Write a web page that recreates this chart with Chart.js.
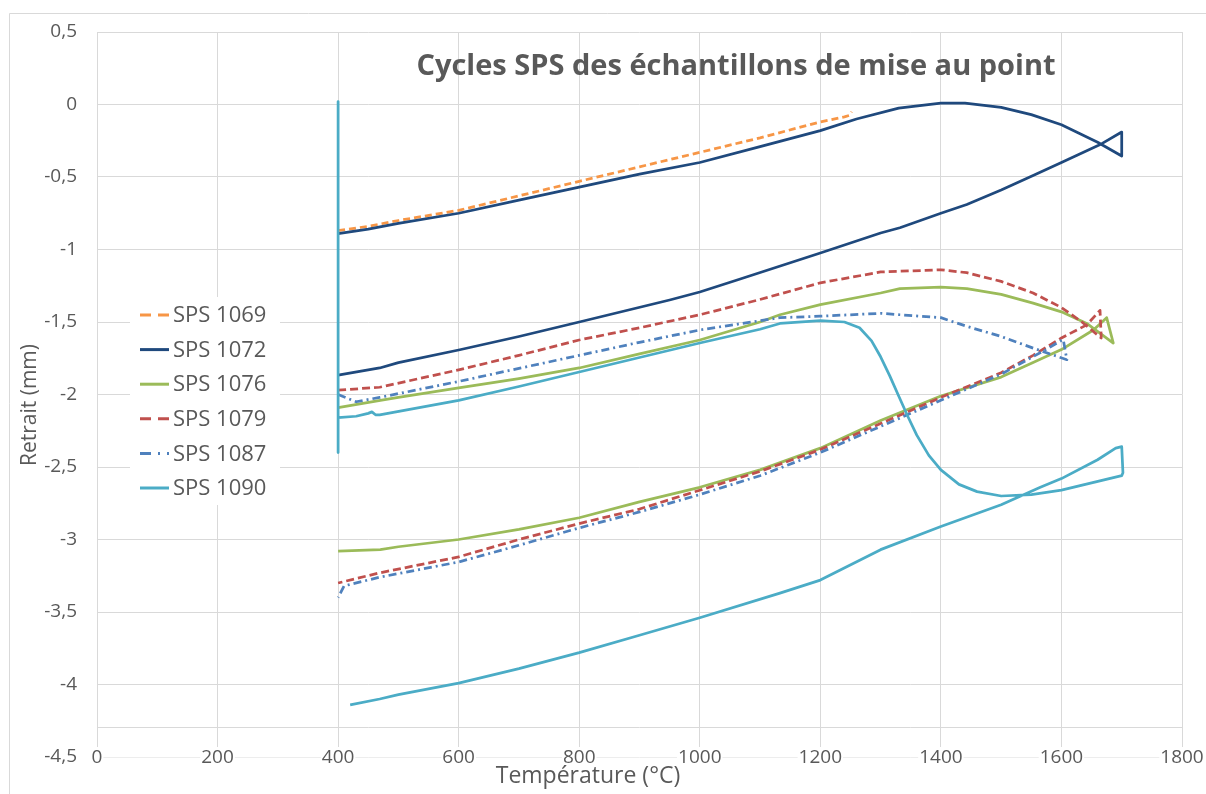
<!DOCTYPE html>
<html>
<head>
<meta charset="utf-8">
<title>Cycles SPS des échantillons de mise au point</title>
<script src="https://cdn.jsdelivr.net/npm/chart.js@4/dist/chart.umd.min.js"></script>
<style>
  html, body { margin: 0; padding: 0; background: #ffffff; }
  #wrap { position: relative; width: 1206px; height: 794px; }
  canvas { display: block; }
</style>
</head>
<body>
<div id="wrap"><canvas id="c" width="1206" height="794"></canvas></div>
<script>
// Température (°C) / retrait (mm) for each SPS run: heating branch, dwell, then cooling branch.
const sps1069_T = [400, 450, 500, 600, 700, 800, 900, 1000, 1100, 1200, 1240, 1248, 1252];
const sps1069_R = [-0.87, -0.84, -0.80, -0.73, -0.63, -0.53, -0.43, -0.33, -0.23, -0.12, -0.085, -0.075, -0.05];

const sps1072_T = [400, 450, 500, 600, 700, 800, 900, 1000, 1100, 1200, 1260, 1330, 1400, 1440, 1500, 1550, 1600, 1660, 1700,
                   1700, 1667, 1600, 1553, 1500, 1443, 1400, 1332, 1300, 1200, 1062, 1000, 950, 800, 700, 600, 500, 469, 400];
const sps1072_R = [-0.89, -0.86, -0.82, -0.75, -0.66, -0.57, -0.48, -0.40, -0.29, -0.18, -0.10, -0.025, 0.01, 0.01, -0.02, -0.07, -0.14, -0.26, -0.355,
                   -0.19, -0.27, -0.40, -0.49, -0.59, -0.69, -0.75, -0.85, -0.886, -1.024, -1.21, -1.293, -1.348, -1.50, -1.60, -1.693, -1.78, -1.817, -1.866];

const sps1076_T = [400, 470, 500, 600, 700, 800, 900, 1000, 1100, 1133, 1200, 1300, 1332, 1400, 1443, 1500, 1553, 1600, 1642, 1686,
                   1675, 1653, 1600, 1553, 1500, 1400, 1300, 1200, 1100, 1000, 900, 800, 700, 600, 500, 470, 400];
const sps1076_R = [-2.09, -2.04, -2.02, -1.955, -1.89, -1.817, -1.72, -1.624, -1.50, -1.45, -1.38, -1.30, -1.27, -1.26, -1.27, -1.31, -1.37, -1.43, -1.51, -1.645,
                   -1.47, -1.555, -1.69, -1.78, -1.88, -2.01, -2.18, -2.37, -2.52, -2.64, -2.74, -2.85, -2.93, -3.00, -3.05, -3.07, -3.08];

const sps1079_T = [400, 469, 600, 700, 800, 900, 1000, 1095, 1200, 1300, 1332, 1400, 1443, 1500, 1553, 1600, 1634, 1666,
                   1664, 1642, 1600, 1553, 1500, 1400, 1300, 1200, 1100, 1000, 900, 800, 700, 600, 469, 400];
const sps1079_R = [-1.97, -1.95, -1.83, -1.73, -1.624, -1.54, -1.45, -1.35, -1.23, -1.155, -1.15, -1.14, -1.16, -1.22, -1.30, -1.40, -1.50, -1.61,
                   -1.42, -1.52, -1.61, -1.73, -1.85, -2.02, -2.20, -2.38, -2.53, -2.66, -2.79, -2.89, -3.00, -3.12, -3.23, -3.30];

const sps1087_T = [400, 430, 469, 600, 700, 800, 900, 1000, 1133, 1200, 1300, 1332, 1400, 1443, 1500, 1553, 1609,
                   1603, 1570, 1526, 1500, 1400, 1300, 1200, 1100, 1000, 900, 800, 700, 600, 469, 410, 400];
const sps1087_R = [-2.00, -2.05, -2.02, -1.91, -1.82, -1.73, -1.64, -1.555, -1.47, -1.46, -1.44, -1.45, -1.47, -1.53, -1.60, -1.68, -1.76,
                   -1.62, -1.70, -1.80, -1.86, -2.04, -2.22, -2.40, -2.56, -2.69, -2.81, -2.92, -3.04, -3.155, -3.26, -3.32, -3.40];

const sps1090_T = [400, 400, 400, 430, 450, 456, 462, 469, 600, 700, 800, 900, 1000, 1100, 1133, 1200, 1240, 1265, 1285, 1300, 1315, 1330, 1345, 1360, 1380, 1400, 1430, 1460, 1500,
                   1550, 1600, 1650, 1700, 1702,
                   1700, 1690, 1660, 1600, 1565, 1500, 1400, 1300, 1200, 1133, 1000, 900, 800, 700, 600, 500, 469, 420];
const sps1090_R = [0.02, -2.40, -2.16, -2.15, -2.13, -2.12, -2.14, -2.14, -2.04, -1.945, -1.845, -1.745, -1.645, -1.55, -1.51, -1.49, -1.50, -1.54, -1.63, -1.74, -1.87, -2.01, -2.15, -2.28, -2.42, -2.52, -2.62, -2.67, -2.70,
                   -2.69, -2.66, -2.61, -2.56, -2.54,
                   -2.36, -2.37, -2.45, -2.58, -2.64, -2.76, -2.91, -3.07, -3.28, -3.37, -3.54, -3.66, -3.78, -3.89, -3.99, -4.07, -4.10, -4.14];

const seriesLabels = ['SPS 1069', 'SPS 1072', 'SPS 1076', 'SPS 1079', 'SPS 1087', 'SPS 1090'];
const xTicks = [0, 200, 400, 600, 800, 1000, 1200, 1400, 1600, 1800];
const yTicks = [0.5, 0, -0.5, -1, -1.5, -2, -2.5, -3, -3.5, -4, -4.5];
const baseLineValue = -4.29;

// Line styles (Office palette)
const styles = [
  { color: '#F79646', dash: [7, 4],       legendDash: [11, 7] },
  { color: '#1F497D', dash: [],           legendDash: [] },
  { color: '#9BBB59', dash: [],           legendDash: [] },
  { color: '#C0504D', dash: [8, 4],       legendDash: [11, 7] },
  { color: '#4F81BD', dash: [8, 4, 2, 4], legendDash: [11, 7, 2, 7] },
  { color: '#4BACC6', dash: [],           legendDash: [] }
];

const rawSeries = [
  [sps1069_T, sps1069_R], [sps1072_T, sps1072_R], [sps1076_T, sps1076_R],
  [sps1079_T, sps1079_R], [sps1087_T, sps1087_R], [sps1090_T, sps1090_R]
];

const FONT = "'Open Sans', 'Noto Sans', sans-serif";
const TEXT = '#595959';
const GRID = '#D9D9D9';
const GRID_LIGHT = '#EDEDED';
const TICK_SIZE = 19;

const fmt = v => String(v).replace('.', ',');

const datasets = rawSeries.map(([T, R], i) => ({
  label: seriesLabels[i],
  data: T.map((t, k) => ({ x: t, y: R[k] })),
  showLine: true,
  borderColor: styles[i].color,
  backgroundColor: styles[i].color,
  borderWidth: 2.75,
  borderDash: styles[i].dash,
  borderCapStyle: 'butt',
  borderJoinStyle: 'round',
  pointRadius: 0,
  pointHoverRadius: 0,
  tension: 0,
  fill: false,
  order: rawSeries.length - i
}));

const decor = {
  id: 'decor',
  beforeDraw(chart) {
    const ctx = chart.ctx;
    ctx.save();
    ctx.fillStyle = '#ffffff';
    ctx.fillRect(0, 0, chart.width, chart.height);
    ctx.strokeStyle = GRID;
    ctx.lineWidth = 1;
    ctx.beginPath();
    ctx.moveTo(9.5, chart.height);
    ctx.lineTo(9.5, 13.5);
    ctx.lineTo(chart.width, 13.5);
    ctx.stroke();
    ctx.restore();
  },
  beforeDatasetsDraw(chart) {
    const ctx = chart.ctx, a = chart.chartArea;
    ctx.save();
    // horizontal axis line
    const y = Math.round(chart.scales.y.getPixelForValue(baseLineValue)) + 0.5;
    ctx.strokeStyle = GRID;
    ctx.lineWidth = 1;
    ctx.beginPath();
    ctx.moveTo(a.left, y);
    ctx.lineTo(a.right, y);
    ctx.stroke();
    ctx.restore();
  },
  afterDraw(chart) {
    const ctx = chart.ctx, a = chart.chartArea, xs = chart.scales.x;
    ctx.save();
    // temperature tick labels, sitting on the bottom gridline
    ctx.font = TICK_SIZE + 'px ' + FONT;
    ctx.textAlign = 'center';
    ctx.textBaseline = 'middle';
    xTicks.forEach(v => {
      const s = fmt(v);
      const w = ctx.measureText(s).width;
      const px = xs.getPixelForValue(v);
      ctx.fillStyle = '#ffffff';
      ctx.fillRect(px - w / 2 - 1, a.bottom - 10, w + 2, 22);
      ctx.fillStyle = TEXT;
      ctx.fillText(s, px, a.bottom + 1);
    });

    // chart title
    ctx.fillStyle = TEXT;
    ctx.font = "bold 29px " + FONT;
    ctx.fillText('Cycles SPS des échantillons de mise au point', 736, 67);

    // axis titles
    ctx.font = "23px " + FONT;
    ctx.fillText('Température (°C)', 588, 776);
    ctx.font = "21px " + FONT;
    ctx.save();
    ctx.translate(30, 405);
    ctx.rotate(-Math.PI / 2);
    ctx.fillText('Retrait (mm)', 0, 0);
    ctx.restore();

    // legend
    ctx.fillStyle = '#ffffff';
    ctx.fillRect(130, 297, 150, 208);
    ctx.font = "22px " + FONT;
    ctx.textAlign = 'left';
    chart.data.datasets.forEach((ds, i) => {
      const y = 315 + i * 34.6;
      ctx.strokeStyle = ds.borderColor;
      ctx.lineWidth = 3;
      ctx.lineCap = 'butt';
      ctx.setLineDash(styles[i].legendDash);
      ctx.beginPath();
      ctx.moveTo(140, y);
      ctx.lineTo(169, y);
      ctx.stroke();
      ctx.setLineDash([]);
      ctx.fillStyle = TEXT;
      ctx.fillText(ds.label, 173, y + 1);
    });
    ctx.restore();
  }
};

new Chart(document.getElementById('c'), {
  type: 'scatter',
  data: { datasets },
  options: {
    responsive: false,
    animation: false,
    devicePixelRatio: 1,
    layout: { padding: { left: 0, top: 32, right: 24, bottom: 0 } },
    plugins: { legend: { display: false }, tooltip: { enabled: false }, title: { display: false } },
    scales: {
      x: {
        type: 'linear',
        min: 0, max: 1800,
        afterFit(s) { s.height = 37; },
        afterBuildTicks(s) { s.ticks = xTicks.map(v => ({ value: v })); },
        border: { display: false },
        grid: { color: GRID, lineWidth: 1, drawTicks: false },
        ticks: { display: false }
      },
      y: {
        type: 'linear',
        min: -4.5, max: 0.5,
        afterFit(s) { s.width = 97; },
        afterBuildTicks(s) { s.ticks = yTicks.map(v => ({ value: v })); },
        border: { display: false },
        grid: { color: c => (c.tick && c.tick.value === -4.5 ? GRID_LIGHT : GRID), lineWidth: 1, drawTicks: false },
        ticks: { padding: 20, color: TEXT, font: { family: FONT, size: TICK_SIZE }, callback: v => fmt(v) }
      }
    }
  },
  plugins: [decor]
});
</script>
</body>
</html>
